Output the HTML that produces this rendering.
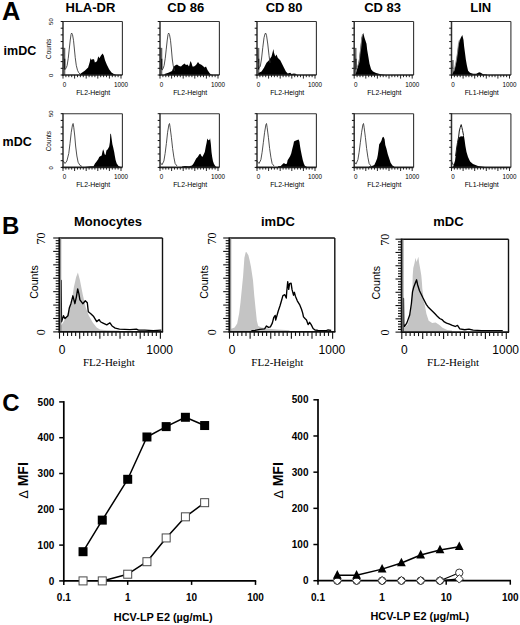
<!DOCTYPE html>
<html><head><meta charset="utf-8"><style>
html,body{margin:0;padding:0;background:#fff;width:520px;height:625px;overflow:hidden;}
svg{display:block;}
</style></head><body>
<svg width="520" height="625" viewBox="0 0 520 625">
<rect width="520" height="625" fill="#fff"/>
<text x="2" y="20.2" font-size="25.4" font-weight="bold" text-anchor="start" font-family='"Liberation Sans", sans-serif' fill="#000">A</text>
<text x="65.5" y="11.6" font-size="13" font-weight="bold" text-anchor="start" font-family='"Liberation Sans", sans-serif' fill="#000">HLA-DR</text>
<text x="167.3" y="11.6" font-size="13" font-weight="bold" text-anchor="start" font-family='"Liberation Sans", sans-serif' fill="#000">CD 86</text>
<text x="265.7" y="11.6" font-size="13" font-weight="bold" text-anchor="start" font-family='"Liberation Sans", sans-serif' fill="#000">CD 80</text>
<text x="364.2" y="11.6" font-size="13" font-weight="bold" text-anchor="start" font-family='"Liberation Sans", sans-serif' fill="#000">CD 83</text>
<text x="470.3" y="11.6" font-size="13" font-weight="bold" text-anchor="start" font-family='"Liberation Sans", sans-serif' fill="#000">LIN</text>
<text x="3.6" y="54.5" font-size="12.5" font-weight="bold" text-anchor="start" font-family='"Liberation Sans", sans-serif' fill="#000">imDC</text>
<text x="2.6" y="146" font-size="12.5" font-weight="bold" text-anchor="start" font-family='"Liberation Sans", sans-serif' fill="#000">mDC</text>
<rect x="63.4" y="47.9" width="1.9" height="27.1" fill="#6a6a6a"/>
<line x1="64.7" y1="58.8" x2="64.7" y2="69.5" stroke="#000" stroke-width="1.2"/>
<polygon points="80,75 80,74.12 84.75,70.75 88.12,67.62 89.75,62 90.5,58.25 91.75,59.88 92.88,59.12 94.12,59.5 94.88,62.38 97,61.25 98.25,56.25 99.38,58.25 101,55.5 102.62,53.5 103.75,55.5 105,60.25 106.75,64.38 109.12,69.25 111.5,72.5 113.88,74.12 115.5,74.5 115.5,75" fill="#000" stroke="none" stroke-width="0" stroke-linejoin="round"/>
<polyline points="63.75,47.75 63.88,69 65.25,69.25 66.25,67.75 67.12,65.5 68.25,58.25 69.25,49.12 70.25,40 71,34.62 71.62,33 72.5,34.62 73.5,40.25 74.38,49 75.25,57.75 76.25,65.25 77.5,70.25 78.75,72.75 80,74" fill="none" stroke="#3c3c3c" stroke-width="0.9" stroke-linejoin="round"/>
<line x1="63" y1="21.5" x2="122.4" y2="21.5" stroke="#333" stroke-width="1.1"/>
<line x1="122.4" y1="21.5" x2="122.4" y2="75" stroke="#333" stroke-width="1.1"/>
<line x1="63" y1="21" x2="63" y2="75.8" stroke="#303030" stroke-width="1.5"/>
<line x1="62.5" y1="75" x2="122.4" y2="75" stroke="#222" stroke-width="1.6"/>
<line x1="60.7" y1="21.5" x2="63" y2="21.5" stroke="#111" stroke-width="1"/>
<line x1="60.7" y1="28.19" x2="63" y2="28.19" stroke="#111" stroke-width="1"/>
<line x1="60.7" y1="34.88" x2="63" y2="34.88" stroke="#111" stroke-width="1"/>
<line x1="60.7" y1="41.56" x2="63" y2="41.56" stroke="#111" stroke-width="1"/>
<line x1="60.7" y1="48.25" x2="63" y2="48.25" stroke="#111" stroke-width="1"/>
<line x1="60.7" y1="54.94" x2="63" y2="54.94" stroke="#111" stroke-width="1"/>
<line x1="60.7" y1="61.62" x2="63" y2="61.62" stroke="#111" stroke-width="1"/>
<line x1="60.7" y1="68.31" x2="63" y2="68.31" stroke="#111" stroke-width="1"/>
<line x1="60.7" y1="75" x2="63" y2="75" stroke="#111" stroke-width="1"/>
<line x1="63" y1="75" x2="63" y2="78.6" stroke="#111" stroke-width="0.9"/>
<line x1="65.9" y1="75" x2="65.9" y2="77.2" stroke="#111" stroke-width="0.9"/>
<line x1="68.8" y1="75" x2="68.8" y2="77.2" stroke="#111" stroke-width="0.9"/>
<line x1="71.7" y1="75" x2="71.7" y2="77.2" stroke="#111" stroke-width="0.9"/>
<line x1="74.6" y1="75" x2="74.6" y2="78.6" stroke="#111" stroke-width="0.9"/>
<line x1="77.5" y1="75" x2="77.5" y2="77.2" stroke="#111" stroke-width="0.9"/>
<line x1="80.4" y1="75" x2="80.4" y2="77.2" stroke="#111" stroke-width="0.9"/>
<line x1="83.3" y1="75" x2="83.3" y2="77.2" stroke="#111" stroke-width="0.9"/>
<line x1="86.2" y1="75" x2="86.2" y2="78.6" stroke="#111" stroke-width="0.9"/>
<line x1="89.1" y1="75" x2="89.1" y2="77.2" stroke="#111" stroke-width="0.9"/>
<line x1="92" y1="75" x2="92" y2="77.2" stroke="#111" stroke-width="0.9"/>
<line x1="94.9" y1="75" x2="94.9" y2="77.2" stroke="#111" stroke-width="0.9"/>
<line x1="97.8" y1="75" x2="97.8" y2="78.6" stroke="#111" stroke-width="0.9"/>
<line x1="100.7" y1="75" x2="100.7" y2="77.2" stroke="#111" stroke-width="0.9"/>
<line x1="103.6" y1="75" x2="103.6" y2="77.2" stroke="#111" stroke-width="0.9"/>
<line x1="106.5" y1="75" x2="106.5" y2="77.2" stroke="#111" stroke-width="0.9"/>
<line x1="109.4" y1="75" x2="109.4" y2="78.6" stroke="#111" stroke-width="0.9"/>
<line x1="112.3" y1="75" x2="112.3" y2="77.2" stroke="#111" stroke-width="0.9"/>
<line x1="115.2" y1="75" x2="115.2" y2="77.2" stroke="#111" stroke-width="0.9"/>
<line x1="118.1" y1="75" x2="118.1" y2="77.2" stroke="#111" stroke-width="0.9"/>
<line x1="121" y1="75" x2="121" y2="78.6" stroke="#111" stroke-width="0.9"/>
<text x="62.7" y="87" font-size="6.3" text-anchor="start" font-family='"Liberation Sans", sans-serif' fill="#000">0</text>
<text x="128" y="87" font-size="6.3" text-anchor="end" font-family='"Liberation Sans", sans-serif' fill="#000">1000</text>
<text x="93.2" y="94.5" font-size="6.9" text-anchor="middle" font-family='"Liberation Sans", sans-serif' fill="#000">FL2-Height</text>
<rect x="160.4" y="47.9" width="1.9" height="27.1" fill="#6a6a6a"/>
<line x1="161.7" y1="58.8" x2="161.7" y2="69.5" stroke="#000" stroke-width="1.2"/>
<polygon points="164.5,75 164.5,74 168.25,72.75 170,72 172,71 173.5,67 175,65.5 177,64.5 179,66 181,66.5 182.5,65 184.5,63.5 186,65 187.5,64.5 189,66.5 190.5,61 191.5,63 192.5,66.5 194,66.5 196,65 198,62 199.5,64 201,64.5 203,66 204.5,67.5 206,66.5 207.5,70 209.5,73 211,74.5 213,75 213,75" fill="#000" stroke="none" stroke-width="0" stroke-linejoin="round"/>
<polyline points="160.75,47.75 160.88,69 162.25,70 163.25,68 164.12,65.5 165.25,58.25 166.25,49.12 167.25,40 168,34.62 168.62,33 169.5,34.62 170.5,40.25 171.38,49 172.25,59 173.25,65.88 174.5,70.88" fill="none" stroke="#3c3c3c" stroke-width="0.9" stroke-linejoin="round"/>
<line x1="160" y1="21.5" x2="219.4" y2="21.5" stroke="#333" stroke-width="1.1"/>
<line x1="219.4" y1="21.5" x2="219.4" y2="75" stroke="#333" stroke-width="1.1"/>
<line x1="160" y1="21" x2="160" y2="75.8" stroke="#303030" stroke-width="1.5"/>
<line x1="159.5" y1="75" x2="219.4" y2="75" stroke="#222" stroke-width="1.6"/>
<line x1="157.7" y1="21.5" x2="160" y2="21.5" stroke="#111" stroke-width="1"/>
<line x1="157.7" y1="28.19" x2="160" y2="28.19" stroke="#111" stroke-width="1"/>
<line x1="157.7" y1="34.88" x2="160" y2="34.88" stroke="#111" stroke-width="1"/>
<line x1="157.7" y1="41.56" x2="160" y2="41.56" stroke="#111" stroke-width="1"/>
<line x1="157.7" y1="48.25" x2="160" y2="48.25" stroke="#111" stroke-width="1"/>
<line x1="157.7" y1="54.94" x2="160" y2="54.94" stroke="#111" stroke-width="1"/>
<line x1="157.7" y1="61.62" x2="160" y2="61.62" stroke="#111" stroke-width="1"/>
<line x1="157.7" y1="68.31" x2="160" y2="68.31" stroke="#111" stroke-width="1"/>
<line x1="157.7" y1="75" x2="160" y2="75" stroke="#111" stroke-width="1"/>
<line x1="160" y1="75" x2="160" y2="78.6" stroke="#111" stroke-width="0.9"/>
<line x1="162.9" y1="75" x2="162.9" y2="77.2" stroke="#111" stroke-width="0.9"/>
<line x1="165.8" y1="75" x2="165.8" y2="77.2" stroke="#111" stroke-width="0.9"/>
<line x1="168.7" y1="75" x2="168.7" y2="77.2" stroke="#111" stroke-width="0.9"/>
<line x1="171.6" y1="75" x2="171.6" y2="78.6" stroke="#111" stroke-width="0.9"/>
<line x1="174.5" y1="75" x2="174.5" y2="77.2" stroke="#111" stroke-width="0.9"/>
<line x1="177.4" y1="75" x2="177.4" y2="77.2" stroke="#111" stroke-width="0.9"/>
<line x1="180.3" y1="75" x2="180.3" y2="77.2" stroke="#111" stroke-width="0.9"/>
<line x1="183.2" y1="75" x2="183.2" y2="78.6" stroke="#111" stroke-width="0.9"/>
<line x1="186.1" y1="75" x2="186.1" y2="77.2" stroke="#111" stroke-width="0.9"/>
<line x1="189" y1="75" x2="189" y2="77.2" stroke="#111" stroke-width="0.9"/>
<line x1="191.9" y1="75" x2="191.9" y2="77.2" stroke="#111" stroke-width="0.9"/>
<line x1="194.8" y1="75" x2="194.8" y2="78.6" stroke="#111" stroke-width="0.9"/>
<line x1="197.7" y1="75" x2="197.7" y2="77.2" stroke="#111" stroke-width="0.9"/>
<line x1="200.6" y1="75" x2="200.6" y2="77.2" stroke="#111" stroke-width="0.9"/>
<line x1="203.5" y1="75" x2="203.5" y2="77.2" stroke="#111" stroke-width="0.9"/>
<line x1="206.4" y1="75" x2="206.4" y2="78.6" stroke="#111" stroke-width="0.9"/>
<line x1="209.3" y1="75" x2="209.3" y2="77.2" stroke="#111" stroke-width="0.9"/>
<line x1="212.2" y1="75" x2="212.2" y2="77.2" stroke="#111" stroke-width="0.9"/>
<line x1="215.1" y1="75" x2="215.1" y2="77.2" stroke="#111" stroke-width="0.9"/>
<line x1="218" y1="75" x2="218" y2="78.6" stroke="#111" stroke-width="0.9"/>
<text x="159.7" y="87" font-size="6.3" text-anchor="start" font-family='"Liberation Sans", sans-serif' fill="#000">0</text>
<text x="225" y="87" font-size="6.3" text-anchor="end" font-family='"Liberation Sans", sans-serif' fill="#000">1000</text>
<text x="190.2" y="94.5" font-size="6.9" text-anchor="middle" font-family='"Liberation Sans", sans-serif' fill="#000">FL2-Height</text>
<rect x="257.4" y="47.9" width="1.9" height="27.1" fill="#6a6a6a"/>
<line x1="258.7" y1="58.8" x2="258.7" y2="69.5" stroke="#000" stroke-width="1.2"/>
<polygon points="258.38,75 258.38,73 261.5,71.5 264,67.75 266.5,62.75 269,60.25 271.5,56.5 272.75,51.75 273.38,49 274,52.75 275.25,56.5 276.5,54.62 277.75,57.75 280.25,60.25 282.12,64 284,67.75 285.88,71.5 287.75,73.38 290.25,72.75 291.5,74 294,73.62 296.5,74 296.5,75" fill="#000" stroke="none" stroke-width="0" stroke-linejoin="round"/>
<polyline points="257.25,47.75 258,61.5 259,67.75 260.25,66.5 261.5,59 262.75,47.75 264,37.75 265,34 265.62,33 266.5,35.25 267.75,44 269,55.25 270,62.75" fill="none" stroke="#3c3c3c" stroke-width="0.9" stroke-linejoin="round"/>
<line x1="257" y1="21.5" x2="316.4" y2="21.5" stroke="#333" stroke-width="1.1"/>
<line x1="316.4" y1="21.5" x2="316.4" y2="75" stroke="#333" stroke-width="1.1"/>
<line x1="257" y1="21" x2="257" y2="75.8" stroke="#303030" stroke-width="1.5"/>
<line x1="256.5" y1="75" x2="316.4" y2="75" stroke="#222" stroke-width="1.6"/>
<line x1="254.7" y1="21.5" x2="257" y2="21.5" stroke="#111" stroke-width="1"/>
<line x1="254.7" y1="28.19" x2="257" y2="28.19" stroke="#111" stroke-width="1"/>
<line x1="254.7" y1="34.88" x2="257" y2="34.88" stroke="#111" stroke-width="1"/>
<line x1="254.7" y1="41.56" x2="257" y2="41.56" stroke="#111" stroke-width="1"/>
<line x1="254.7" y1="48.25" x2="257" y2="48.25" stroke="#111" stroke-width="1"/>
<line x1="254.7" y1="54.94" x2="257" y2="54.94" stroke="#111" stroke-width="1"/>
<line x1="254.7" y1="61.62" x2="257" y2="61.62" stroke="#111" stroke-width="1"/>
<line x1="254.7" y1="68.31" x2="257" y2="68.31" stroke="#111" stroke-width="1"/>
<line x1="254.7" y1="75" x2="257" y2="75" stroke="#111" stroke-width="1"/>
<line x1="257" y1="75" x2="257" y2="78.6" stroke="#111" stroke-width="0.9"/>
<line x1="259.9" y1="75" x2="259.9" y2="77.2" stroke="#111" stroke-width="0.9"/>
<line x1="262.8" y1="75" x2="262.8" y2="77.2" stroke="#111" stroke-width="0.9"/>
<line x1="265.7" y1="75" x2="265.7" y2="77.2" stroke="#111" stroke-width="0.9"/>
<line x1="268.6" y1="75" x2="268.6" y2="78.6" stroke="#111" stroke-width="0.9"/>
<line x1="271.5" y1="75" x2="271.5" y2="77.2" stroke="#111" stroke-width="0.9"/>
<line x1="274.4" y1="75" x2="274.4" y2="77.2" stroke="#111" stroke-width="0.9"/>
<line x1="277.3" y1="75" x2="277.3" y2="77.2" stroke="#111" stroke-width="0.9"/>
<line x1="280.2" y1="75" x2="280.2" y2="78.6" stroke="#111" stroke-width="0.9"/>
<line x1="283.1" y1="75" x2="283.1" y2="77.2" stroke="#111" stroke-width="0.9"/>
<line x1="286" y1="75" x2="286" y2="77.2" stroke="#111" stroke-width="0.9"/>
<line x1="288.9" y1="75" x2="288.9" y2="77.2" stroke="#111" stroke-width="0.9"/>
<line x1="291.8" y1="75" x2="291.8" y2="78.6" stroke="#111" stroke-width="0.9"/>
<line x1="294.7" y1="75" x2="294.7" y2="77.2" stroke="#111" stroke-width="0.9"/>
<line x1="297.6" y1="75" x2="297.6" y2="77.2" stroke="#111" stroke-width="0.9"/>
<line x1="300.5" y1="75" x2="300.5" y2="77.2" stroke="#111" stroke-width="0.9"/>
<line x1="303.4" y1="75" x2="303.4" y2="78.6" stroke="#111" stroke-width="0.9"/>
<line x1="306.3" y1="75" x2="306.3" y2="77.2" stroke="#111" stroke-width="0.9"/>
<line x1="309.2" y1="75" x2="309.2" y2="77.2" stroke="#111" stroke-width="0.9"/>
<line x1="312.1" y1="75" x2="312.1" y2="77.2" stroke="#111" stroke-width="0.9"/>
<line x1="315" y1="75" x2="315" y2="78.6" stroke="#111" stroke-width="0.9"/>
<text x="256.7" y="87" font-size="6.3" text-anchor="start" font-family='"Liberation Sans", sans-serif' fill="#000">0</text>
<text x="322" y="87" font-size="6.3" text-anchor="end" font-family='"Liberation Sans", sans-serif' fill="#000">1000</text>
<text x="287.2" y="94.5" font-size="6.9" text-anchor="middle" font-family='"Liberation Sans", sans-serif' fill="#000">FL2-Height</text>
<rect x="354.6" y="47.9" width="1.9" height="27.1" fill="#6a6a6a"/>
<line x1="355.9" y1="58.8" x2="355.9" y2="69.5" stroke="#000" stroke-width="1.2"/>
<polygon points="355.7,75 355.7,73.8 356.5,71.5 357.6,66.9 358.8,60.8 359.9,53.1 360.7,45.4 361.5,37.7 362.6,34.2 363.4,33.5 364.5,37.7 366.5,43.8 367.2,50 368.4,56.9 369.5,63.8 371.1,69.2 373,71.5 376.1,73.1 380.7,74.2 385.3,75 385.3,75" fill="#000" stroke="none" stroke-width="0" stroke-linejoin="round"/>
<polyline points="356.9,68.3 359.2,61.7 359.9,54.3 361,46.2 361.7,38.8 362.5,34.4 363.6,33.3" fill="none" stroke="#8a8a8a" stroke-width="0.9" stroke-linejoin="round"/>
<polyline points="354.25,47.75 355,61.5 356,69" fill="none" stroke="#3c3c3c" stroke-width="0.9" stroke-linejoin="round"/>
<line x1="354.2" y1="21.5" x2="413.6" y2="21.5" stroke="#333" stroke-width="1.1"/>
<line x1="413.6" y1="21.5" x2="413.6" y2="75" stroke="#333" stroke-width="1.1"/>
<line x1="354.2" y1="21" x2="354.2" y2="75.8" stroke="#303030" stroke-width="1.5"/>
<line x1="353.7" y1="75" x2="413.6" y2="75" stroke="#222" stroke-width="1.6"/>
<line x1="351.9" y1="21.5" x2="354.2" y2="21.5" stroke="#111" stroke-width="1"/>
<line x1="351.9" y1="28.19" x2="354.2" y2="28.19" stroke="#111" stroke-width="1"/>
<line x1="351.9" y1="34.88" x2="354.2" y2="34.88" stroke="#111" stroke-width="1"/>
<line x1="351.9" y1="41.56" x2="354.2" y2="41.56" stroke="#111" stroke-width="1"/>
<line x1="351.9" y1="48.25" x2="354.2" y2="48.25" stroke="#111" stroke-width="1"/>
<line x1="351.9" y1="54.94" x2="354.2" y2="54.94" stroke="#111" stroke-width="1"/>
<line x1="351.9" y1="61.62" x2="354.2" y2="61.62" stroke="#111" stroke-width="1"/>
<line x1="351.9" y1="68.31" x2="354.2" y2="68.31" stroke="#111" stroke-width="1"/>
<line x1="351.9" y1="75" x2="354.2" y2="75" stroke="#111" stroke-width="1"/>
<line x1="354.2" y1="75" x2="354.2" y2="78.6" stroke="#111" stroke-width="0.9"/>
<line x1="357.1" y1="75" x2="357.1" y2="77.2" stroke="#111" stroke-width="0.9"/>
<line x1="360" y1="75" x2="360" y2="77.2" stroke="#111" stroke-width="0.9"/>
<line x1="362.9" y1="75" x2="362.9" y2="77.2" stroke="#111" stroke-width="0.9"/>
<line x1="365.8" y1="75" x2="365.8" y2="78.6" stroke="#111" stroke-width="0.9"/>
<line x1="368.7" y1="75" x2="368.7" y2="77.2" stroke="#111" stroke-width="0.9"/>
<line x1="371.6" y1="75" x2="371.6" y2="77.2" stroke="#111" stroke-width="0.9"/>
<line x1="374.5" y1="75" x2="374.5" y2="77.2" stroke="#111" stroke-width="0.9"/>
<line x1="377.4" y1="75" x2="377.4" y2="78.6" stroke="#111" stroke-width="0.9"/>
<line x1="380.3" y1="75" x2="380.3" y2="77.2" stroke="#111" stroke-width="0.9"/>
<line x1="383.2" y1="75" x2="383.2" y2="77.2" stroke="#111" stroke-width="0.9"/>
<line x1="386.1" y1="75" x2="386.1" y2="77.2" stroke="#111" stroke-width="0.9"/>
<line x1="389" y1="75" x2="389" y2="78.6" stroke="#111" stroke-width="0.9"/>
<line x1="391.9" y1="75" x2="391.9" y2="77.2" stroke="#111" stroke-width="0.9"/>
<line x1="394.8" y1="75" x2="394.8" y2="77.2" stroke="#111" stroke-width="0.9"/>
<line x1="397.7" y1="75" x2="397.7" y2="77.2" stroke="#111" stroke-width="0.9"/>
<line x1="400.6" y1="75" x2="400.6" y2="78.6" stroke="#111" stroke-width="0.9"/>
<line x1="403.5" y1="75" x2="403.5" y2="77.2" stroke="#111" stroke-width="0.9"/>
<line x1="406.4" y1="75" x2="406.4" y2="77.2" stroke="#111" stroke-width="0.9"/>
<line x1="409.3" y1="75" x2="409.3" y2="77.2" stroke="#111" stroke-width="0.9"/>
<line x1="412.2" y1="75" x2="412.2" y2="78.6" stroke="#111" stroke-width="0.9"/>
<text x="353.9" y="87" font-size="6.3" text-anchor="start" font-family='"Liberation Sans", sans-serif' fill="#000">0</text>
<text x="419.2" y="87" font-size="6.3" text-anchor="end" font-family='"Liberation Sans", sans-serif' fill="#000">1000</text>
<text x="384.4" y="94.5" font-size="6.9" text-anchor="middle" font-family='"Liberation Sans", sans-serif' fill="#000">FL2-Height</text>
<rect x="451.9" y="60" width="1.9" height="15" fill="#8a8a8a"/>
<polygon points="452.5,75 452.5,74 453.5,71.5 454.6,68.5 455.8,64.6 456.5,59.2 457.3,53.1 458.1,46.9 459.2,41.5 460.8,37.7 462.3,35 463.5,40 464.2,46.9 465,53.1 465.8,59.2 466.9,65.4 468.1,70.8 470,72.7 473.1,73.8 476.2,73.8 479.2,72.3 480.8,72.7 483.1,74.2 486.9,74.6 486.9,75" fill="#000" stroke="none" stroke-width="0" stroke-linejoin="round"/>
<polyline points="454,71.2 456.5,59.5 457.6,52.1 458.4,44.7 459.1,41 459.8,39.6" fill="none" stroke="#8a8a8a" stroke-width="0.9" stroke-linejoin="round"/>
<polyline points="451.5,60.25 452,66.5 453,69" fill="none" stroke="#3c3c3c" stroke-width="0.9" stroke-linejoin="round"/>
<line x1="451.5" y1="21.5" x2="510.9" y2="21.5" stroke="#333" stroke-width="1.1"/>
<line x1="510.9" y1="21.5" x2="510.9" y2="75" stroke="#333" stroke-width="1.1"/>
<line x1="451.5" y1="21" x2="451.5" y2="75.8" stroke="#303030" stroke-width="1.5"/>
<line x1="451" y1="75" x2="510.9" y2="75" stroke="#222" stroke-width="1.6"/>
<line x1="449.2" y1="21.5" x2="451.5" y2="21.5" stroke="#111" stroke-width="1"/>
<line x1="449.2" y1="28.19" x2="451.5" y2="28.19" stroke="#111" stroke-width="1"/>
<line x1="449.2" y1="34.88" x2="451.5" y2="34.88" stroke="#111" stroke-width="1"/>
<line x1="449.2" y1="41.56" x2="451.5" y2="41.56" stroke="#111" stroke-width="1"/>
<line x1="449.2" y1="48.25" x2="451.5" y2="48.25" stroke="#111" stroke-width="1"/>
<line x1="449.2" y1="54.94" x2="451.5" y2="54.94" stroke="#111" stroke-width="1"/>
<line x1="449.2" y1="61.62" x2="451.5" y2="61.62" stroke="#111" stroke-width="1"/>
<line x1="449.2" y1="68.31" x2="451.5" y2="68.31" stroke="#111" stroke-width="1"/>
<line x1="449.2" y1="75" x2="451.5" y2="75" stroke="#111" stroke-width="1"/>
<line x1="451.5" y1="75" x2="451.5" y2="78.6" stroke="#111" stroke-width="0.9"/>
<line x1="454.4" y1="75" x2="454.4" y2="77.2" stroke="#111" stroke-width="0.9"/>
<line x1="457.3" y1="75" x2="457.3" y2="77.2" stroke="#111" stroke-width="0.9"/>
<line x1="460.2" y1="75" x2="460.2" y2="77.2" stroke="#111" stroke-width="0.9"/>
<line x1="463.1" y1="75" x2="463.1" y2="78.6" stroke="#111" stroke-width="0.9"/>
<line x1="466" y1="75" x2="466" y2="77.2" stroke="#111" stroke-width="0.9"/>
<line x1="468.9" y1="75" x2="468.9" y2="77.2" stroke="#111" stroke-width="0.9"/>
<line x1="471.8" y1="75" x2="471.8" y2="77.2" stroke="#111" stroke-width="0.9"/>
<line x1="474.7" y1="75" x2="474.7" y2="78.6" stroke="#111" stroke-width="0.9"/>
<line x1="477.6" y1="75" x2="477.6" y2="77.2" stroke="#111" stroke-width="0.9"/>
<line x1="480.5" y1="75" x2="480.5" y2="77.2" stroke="#111" stroke-width="0.9"/>
<line x1="483.4" y1="75" x2="483.4" y2="77.2" stroke="#111" stroke-width="0.9"/>
<line x1="486.3" y1="75" x2="486.3" y2="78.6" stroke="#111" stroke-width="0.9"/>
<line x1="489.2" y1="75" x2="489.2" y2="77.2" stroke="#111" stroke-width="0.9"/>
<line x1="492.1" y1="75" x2="492.1" y2="77.2" stroke="#111" stroke-width="0.9"/>
<line x1="495" y1="75" x2="495" y2="77.2" stroke="#111" stroke-width="0.9"/>
<line x1="497.9" y1="75" x2="497.9" y2="78.6" stroke="#111" stroke-width="0.9"/>
<line x1="500.8" y1="75" x2="500.8" y2="77.2" stroke="#111" stroke-width="0.9"/>
<line x1="503.7" y1="75" x2="503.7" y2="77.2" stroke="#111" stroke-width="0.9"/>
<line x1="506.6" y1="75" x2="506.6" y2="77.2" stroke="#111" stroke-width="0.9"/>
<line x1="509.5" y1="75" x2="509.5" y2="78.6" stroke="#111" stroke-width="0.9"/>
<text x="451.2" y="87" font-size="6.3" text-anchor="start" font-family='"Liberation Sans", sans-serif' fill="#000">0</text>
<text x="516.5" y="87" font-size="6.3" text-anchor="end" font-family='"Liberation Sans", sans-serif' fill="#000">1000</text>
<text x="481.7" y="94.5" font-size="6.9" text-anchor="middle" font-family='"Liberation Sans", sans-serif' fill="#000">FL1-Height</text>
<text x="52.6" y="21.6" font-size="5.9" text-anchor="middle" font-family='"Liberation Sans", sans-serif' fill="#000" transform="rotate(-90 52.6 21.6)">50</text>
<text x="53.1" y="75.4" font-size="5.9" text-anchor="middle" font-family='"Liberation Sans", sans-serif' fill="#000" transform="rotate(-90 53.1 75.4)">0</text>
<text x="51.4" y="48.85" font-size="6.4" text-anchor="middle" font-family='"Liberation Sans", sans-serif' fill="#000" transform="rotate(-90 51.4 48.85)">Counts</text>
<polygon points="85,167.4 85,167 90.7,166.3 93.5,166.3 95,163.4 96.4,161.7 98.2,159.2 99.2,157 100.3,156.3 101.7,155.6 102.4,152 103.1,149.2 103.9,151.3 104.6,154.2 105.6,154.9 106.4,150.6 107.8,149.2 109.2,146.4 109.9,142.1 110.3,133.5 111,134.3 111.7,139.2 112.4,144.2 113.1,147.1 114.2,152 114.9,156.3 115.6,159.9 116.7,163.4 118.5,165.9 120.6,167 120.6,167.4" fill="#000" stroke="none" stroke-width="0" stroke-linejoin="round"/>
<polyline points="63.25,161 65,163.5 66.88,161 68.75,153.5 70,143.5 71.25,132.25 72.5,124.75 73.12,123.5 73.75,127.25 74.75,136 75.62,146 76.88,156 78.12,162.25 80,165.38 81.88,166.38" fill="none" stroke="#3c3c3c" stroke-width="0.9" stroke-linejoin="round"/>
<line x1="63" y1="113.7" x2="122.4" y2="113.7" stroke="#333" stroke-width="1.1"/>
<line x1="122.4" y1="113.7" x2="122.4" y2="167.4" stroke="#333" stroke-width="1.1"/>
<line x1="63" y1="113.2" x2="63" y2="168.2" stroke="#303030" stroke-width="1.5"/>
<line x1="62.5" y1="167.4" x2="122.4" y2="167.4" stroke="#222" stroke-width="1.6"/>
<line x1="60.7" y1="113.7" x2="63" y2="113.7" stroke="#111" stroke-width="1"/>
<line x1="60.7" y1="120.41" x2="63" y2="120.41" stroke="#111" stroke-width="1"/>
<line x1="60.7" y1="127.12" x2="63" y2="127.12" stroke="#111" stroke-width="1"/>
<line x1="60.7" y1="133.84" x2="63" y2="133.84" stroke="#111" stroke-width="1"/>
<line x1="60.7" y1="140.55" x2="63" y2="140.55" stroke="#111" stroke-width="1"/>
<line x1="60.7" y1="147.26" x2="63" y2="147.26" stroke="#111" stroke-width="1"/>
<line x1="60.7" y1="153.98" x2="63" y2="153.98" stroke="#111" stroke-width="1"/>
<line x1="60.7" y1="160.69" x2="63" y2="160.69" stroke="#111" stroke-width="1"/>
<line x1="60.7" y1="167.4" x2="63" y2="167.4" stroke="#111" stroke-width="1"/>
<line x1="63" y1="167.4" x2="63" y2="171" stroke="#111" stroke-width="0.9"/>
<line x1="65.9" y1="167.4" x2="65.9" y2="169.6" stroke="#111" stroke-width="0.9"/>
<line x1="68.8" y1="167.4" x2="68.8" y2="169.6" stroke="#111" stroke-width="0.9"/>
<line x1="71.7" y1="167.4" x2="71.7" y2="169.6" stroke="#111" stroke-width="0.9"/>
<line x1="74.6" y1="167.4" x2="74.6" y2="171" stroke="#111" stroke-width="0.9"/>
<line x1="77.5" y1="167.4" x2="77.5" y2="169.6" stroke="#111" stroke-width="0.9"/>
<line x1="80.4" y1="167.4" x2="80.4" y2="169.6" stroke="#111" stroke-width="0.9"/>
<line x1="83.3" y1="167.4" x2="83.3" y2="169.6" stroke="#111" stroke-width="0.9"/>
<line x1="86.2" y1="167.4" x2="86.2" y2="171" stroke="#111" stroke-width="0.9"/>
<line x1="89.1" y1="167.4" x2="89.1" y2="169.6" stroke="#111" stroke-width="0.9"/>
<line x1="92" y1="167.4" x2="92" y2="169.6" stroke="#111" stroke-width="0.9"/>
<line x1="94.9" y1="167.4" x2="94.9" y2="169.6" stroke="#111" stroke-width="0.9"/>
<line x1="97.8" y1="167.4" x2="97.8" y2="171" stroke="#111" stroke-width="0.9"/>
<line x1="100.7" y1="167.4" x2="100.7" y2="169.6" stroke="#111" stroke-width="0.9"/>
<line x1="103.6" y1="167.4" x2="103.6" y2="169.6" stroke="#111" stroke-width="0.9"/>
<line x1="106.5" y1="167.4" x2="106.5" y2="169.6" stroke="#111" stroke-width="0.9"/>
<line x1="109.4" y1="167.4" x2="109.4" y2="171" stroke="#111" stroke-width="0.9"/>
<line x1="112.3" y1="167.4" x2="112.3" y2="169.6" stroke="#111" stroke-width="0.9"/>
<line x1="115.2" y1="167.4" x2="115.2" y2="169.6" stroke="#111" stroke-width="0.9"/>
<line x1="118.1" y1="167.4" x2="118.1" y2="169.6" stroke="#111" stroke-width="0.9"/>
<line x1="121" y1="167.4" x2="121" y2="171" stroke="#111" stroke-width="0.9"/>
<text x="62.7" y="179.4" font-size="6.3" text-anchor="start" font-family='"Liberation Sans", sans-serif' fill="#000">0</text>
<text x="128" y="179.4" font-size="6.3" text-anchor="end" font-family='"Liberation Sans", sans-serif' fill="#000">1000</text>
<text x="93.2" y="186.9" font-size="6.9" text-anchor="middle" font-family='"Liberation Sans", sans-serif' fill="#000">FL2-Height</text>
<polygon points="182,167.4 182,166.6 184.8,165.9 189.1,166.3 192,165.6 193.4,163.8 194.8,161.3 196.2,158.5 197.7,157 199.4,154.2 200.4,153.8 201.2,155.6 202.3,157 203.4,154.9 204.8,152 205.8,146.4 206.6,142.8 207.3,138.5 208.3,140.3 209.4,139.9 210.1,138.2 210.8,143.5 211.5,152 212.2,157 213,161.3 214,164.1 215.5,166.3 216.9,167.3 216.9,167.4" fill="#000" stroke="none" stroke-width="0" stroke-linejoin="round"/>
<polyline points="160,162.25 162,164.75 163.88,161 165.12,153.5 166.38,143.5 167.62,132.25 168.88,124.75 169.5,123.5 170.12,127.25 171.38,137.25 172.62,148.5 173.88,157.25 175.12,163.5 177,166" fill="none" stroke="#3c3c3c" stroke-width="0.9" stroke-linejoin="round"/>
<line x1="160" y1="113.7" x2="219.4" y2="113.7" stroke="#333" stroke-width="1.1"/>
<line x1="219.4" y1="113.7" x2="219.4" y2="167.4" stroke="#333" stroke-width="1.1"/>
<line x1="160" y1="113.2" x2="160" y2="168.2" stroke="#303030" stroke-width="1.5"/>
<line x1="159.5" y1="167.4" x2="219.4" y2="167.4" stroke="#222" stroke-width="1.6"/>
<line x1="157.7" y1="113.7" x2="160" y2="113.7" stroke="#111" stroke-width="1"/>
<line x1="157.7" y1="120.41" x2="160" y2="120.41" stroke="#111" stroke-width="1"/>
<line x1="157.7" y1="127.12" x2="160" y2="127.12" stroke="#111" stroke-width="1"/>
<line x1="157.7" y1="133.84" x2="160" y2="133.84" stroke="#111" stroke-width="1"/>
<line x1="157.7" y1="140.55" x2="160" y2="140.55" stroke="#111" stroke-width="1"/>
<line x1="157.7" y1="147.26" x2="160" y2="147.26" stroke="#111" stroke-width="1"/>
<line x1="157.7" y1="153.98" x2="160" y2="153.98" stroke="#111" stroke-width="1"/>
<line x1="157.7" y1="160.69" x2="160" y2="160.69" stroke="#111" stroke-width="1"/>
<line x1="157.7" y1="167.4" x2="160" y2="167.4" stroke="#111" stroke-width="1"/>
<line x1="160" y1="167.4" x2="160" y2="171" stroke="#111" stroke-width="0.9"/>
<line x1="162.9" y1="167.4" x2="162.9" y2="169.6" stroke="#111" stroke-width="0.9"/>
<line x1="165.8" y1="167.4" x2="165.8" y2="169.6" stroke="#111" stroke-width="0.9"/>
<line x1="168.7" y1="167.4" x2="168.7" y2="169.6" stroke="#111" stroke-width="0.9"/>
<line x1="171.6" y1="167.4" x2="171.6" y2="171" stroke="#111" stroke-width="0.9"/>
<line x1="174.5" y1="167.4" x2="174.5" y2="169.6" stroke="#111" stroke-width="0.9"/>
<line x1="177.4" y1="167.4" x2="177.4" y2="169.6" stroke="#111" stroke-width="0.9"/>
<line x1="180.3" y1="167.4" x2="180.3" y2="169.6" stroke="#111" stroke-width="0.9"/>
<line x1="183.2" y1="167.4" x2="183.2" y2="171" stroke="#111" stroke-width="0.9"/>
<line x1="186.1" y1="167.4" x2="186.1" y2="169.6" stroke="#111" stroke-width="0.9"/>
<line x1="189" y1="167.4" x2="189" y2="169.6" stroke="#111" stroke-width="0.9"/>
<line x1="191.9" y1="167.4" x2="191.9" y2="169.6" stroke="#111" stroke-width="0.9"/>
<line x1="194.8" y1="167.4" x2="194.8" y2="171" stroke="#111" stroke-width="0.9"/>
<line x1="197.7" y1="167.4" x2="197.7" y2="169.6" stroke="#111" stroke-width="0.9"/>
<line x1="200.6" y1="167.4" x2="200.6" y2="169.6" stroke="#111" stroke-width="0.9"/>
<line x1="203.5" y1="167.4" x2="203.5" y2="169.6" stroke="#111" stroke-width="0.9"/>
<line x1="206.4" y1="167.4" x2="206.4" y2="171" stroke="#111" stroke-width="0.9"/>
<line x1="209.3" y1="167.4" x2="209.3" y2="169.6" stroke="#111" stroke-width="0.9"/>
<line x1="212.2" y1="167.4" x2="212.2" y2="169.6" stroke="#111" stroke-width="0.9"/>
<line x1="215.1" y1="167.4" x2="215.1" y2="169.6" stroke="#111" stroke-width="0.9"/>
<line x1="218" y1="167.4" x2="218" y2="171" stroke="#111" stroke-width="0.9"/>
<text x="159.7" y="179.4" font-size="6.3" text-anchor="start" font-family='"Liberation Sans", sans-serif' fill="#000">0</text>
<text x="225" y="179.4" font-size="6.3" text-anchor="end" font-family='"Liberation Sans", sans-serif' fill="#000">1000</text>
<text x="190.2" y="186.9" font-size="6.9" text-anchor="middle" font-family='"Liberation Sans", sans-serif' fill="#000">FL2-Height</text>
<polygon points="278,167.4 278,166.3 280.8,165.9 283,163.8 284,163.1 285.1,164.1 286.9,163.8 287.6,160.2 288.7,158.5 290.1,156.3 291.2,153.5 292.2,149.2 293.3,144.9 294,141.4 295.4,140.7 297.2,139.9 298.6,139.6 299.4,141.4 300.1,146.4 300.8,150.6 301.8,155.6 302.9,160.6 304,164.1 305,165.9 306.5,166.6 306.5,167.4" fill="#000" stroke="none" stroke-width="0" stroke-linejoin="round"/>
<polyline points="257,161 259,163.5 260.88,159.75 262.12,152.25 263.38,142.25 264.62,132.25 265.88,124.75 266.5,123.5 267.12,127.25 268.38,137.25 269.62,148.5 270.88,157.25 272.12,163.5 274,166" fill="none" stroke="#3c3c3c" stroke-width="0.9" stroke-linejoin="round"/>
<line x1="257" y1="113.7" x2="316.4" y2="113.7" stroke="#333" stroke-width="1.1"/>
<line x1="316.4" y1="113.7" x2="316.4" y2="167.4" stroke="#333" stroke-width="1.1"/>
<line x1="257" y1="113.2" x2="257" y2="168.2" stroke="#303030" stroke-width="1.5"/>
<line x1="256.5" y1="167.4" x2="316.4" y2="167.4" stroke="#222" stroke-width="1.6"/>
<line x1="254.7" y1="113.7" x2="257" y2="113.7" stroke="#111" stroke-width="1"/>
<line x1="254.7" y1="120.41" x2="257" y2="120.41" stroke="#111" stroke-width="1"/>
<line x1="254.7" y1="127.12" x2="257" y2="127.12" stroke="#111" stroke-width="1"/>
<line x1="254.7" y1="133.84" x2="257" y2="133.84" stroke="#111" stroke-width="1"/>
<line x1="254.7" y1="140.55" x2="257" y2="140.55" stroke="#111" stroke-width="1"/>
<line x1="254.7" y1="147.26" x2="257" y2="147.26" stroke="#111" stroke-width="1"/>
<line x1="254.7" y1="153.98" x2="257" y2="153.98" stroke="#111" stroke-width="1"/>
<line x1="254.7" y1="160.69" x2="257" y2="160.69" stroke="#111" stroke-width="1"/>
<line x1="254.7" y1="167.4" x2="257" y2="167.4" stroke="#111" stroke-width="1"/>
<line x1="257" y1="167.4" x2="257" y2="171" stroke="#111" stroke-width="0.9"/>
<line x1="259.9" y1="167.4" x2="259.9" y2="169.6" stroke="#111" stroke-width="0.9"/>
<line x1="262.8" y1="167.4" x2="262.8" y2="169.6" stroke="#111" stroke-width="0.9"/>
<line x1="265.7" y1="167.4" x2="265.7" y2="169.6" stroke="#111" stroke-width="0.9"/>
<line x1="268.6" y1="167.4" x2="268.6" y2="171" stroke="#111" stroke-width="0.9"/>
<line x1="271.5" y1="167.4" x2="271.5" y2="169.6" stroke="#111" stroke-width="0.9"/>
<line x1="274.4" y1="167.4" x2="274.4" y2="169.6" stroke="#111" stroke-width="0.9"/>
<line x1="277.3" y1="167.4" x2="277.3" y2="169.6" stroke="#111" stroke-width="0.9"/>
<line x1="280.2" y1="167.4" x2="280.2" y2="171" stroke="#111" stroke-width="0.9"/>
<line x1="283.1" y1="167.4" x2="283.1" y2="169.6" stroke="#111" stroke-width="0.9"/>
<line x1="286" y1="167.4" x2="286" y2="169.6" stroke="#111" stroke-width="0.9"/>
<line x1="288.9" y1="167.4" x2="288.9" y2="169.6" stroke="#111" stroke-width="0.9"/>
<line x1="291.8" y1="167.4" x2="291.8" y2="171" stroke="#111" stroke-width="0.9"/>
<line x1="294.7" y1="167.4" x2="294.7" y2="169.6" stroke="#111" stroke-width="0.9"/>
<line x1="297.6" y1="167.4" x2="297.6" y2="169.6" stroke="#111" stroke-width="0.9"/>
<line x1="300.5" y1="167.4" x2="300.5" y2="169.6" stroke="#111" stroke-width="0.9"/>
<line x1="303.4" y1="167.4" x2="303.4" y2="171" stroke="#111" stroke-width="0.9"/>
<line x1="306.3" y1="167.4" x2="306.3" y2="169.6" stroke="#111" stroke-width="0.9"/>
<line x1="309.2" y1="167.4" x2="309.2" y2="169.6" stroke="#111" stroke-width="0.9"/>
<line x1="312.1" y1="167.4" x2="312.1" y2="169.6" stroke="#111" stroke-width="0.9"/>
<line x1="315" y1="167.4" x2="315" y2="171" stroke="#111" stroke-width="0.9"/>
<text x="256.7" y="179.4" font-size="6.3" text-anchor="start" font-family='"Liberation Sans", sans-serif' fill="#000">0</text>
<text x="322" y="179.4" font-size="6.3" text-anchor="end" font-family='"Liberation Sans", sans-serif' fill="#000">1000</text>
<text x="287.2" y="186.9" font-size="6.9" text-anchor="middle" font-family='"Liberation Sans", sans-serif' fill="#000">FL2-Height</text>
<polygon points="369,167.4 369,166.6 371.4,166.3 374.3,164.9 375.7,162 377.1,158.5 377.8,154.9 378.5,149.9 379.2,144.2 380.3,142.8 381.4,140.7 382.4,137.5 383.5,136.7 384.6,139.2 385.3,144.9 386.4,148.5 387.8,154.2 389.2,158.5 390.6,162.7 392.4,165.6 394.2,166.6 394.2,167.4" fill="#000" stroke="none" stroke-width="0" stroke-linejoin="round"/>
<polyline points="354.2,161.62 356,164.12 357.88,159.75 359.12,152.25 360.38,142.25 361.62,132.25 362.88,124.75 363.5,123.5 364.12,127.25 365.38,137.25 366.62,148.5 367.88,157.25 369.12,163.5 371,166" fill="none" stroke="#3c3c3c" stroke-width="0.9" stroke-linejoin="round"/>
<line x1="354.2" y1="113.7" x2="413.6" y2="113.7" stroke="#333" stroke-width="1.1"/>
<line x1="413.6" y1="113.7" x2="413.6" y2="167.4" stroke="#333" stroke-width="1.1"/>
<line x1="354.2" y1="113.2" x2="354.2" y2="168.2" stroke="#303030" stroke-width="1.5"/>
<line x1="353.7" y1="167.4" x2="413.6" y2="167.4" stroke="#222" stroke-width="1.6"/>
<line x1="351.9" y1="113.7" x2="354.2" y2="113.7" stroke="#111" stroke-width="1"/>
<line x1="351.9" y1="120.41" x2="354.2" y2="120.41" stroke="#111" stroke-width="1"/>
<line x1="351.9" y1="127.12" x2="354.2" y2="127.12" stroke="#111" stroke-width="1"/>
<line x1="351.9" y1="133.84" x2="354.2" y2="133.84" stroke="#111" stroke-width="1"/>
<line x1="351.9" y1="140.55" x2="354.2" y2="140.55" stroke="#111" stroke-width="1"/>
<line x1="351.9" y1="147.26" x2="354.2" y2="147.26" stroke="#111" stroke-width="1"/>
<line x1="351.9" y1="153.98" x2="354.2" y2="153.98" stroke="#111" stroke-width="1"/>
<line x1="351.9" y1="160.69" x2="354.2" y2="160.69" stroke="#111" stroke-width="1"/>
<line x1="351.9" y1="167.4" x2="354.2" y2="167.4" stroke="#111" stroke-width="1"/>
<line x1="354.2" y1="167.4" x2="354.2" y2="171" stroke="#111" stroke-width="0.9"/>
<line x1="357.1" y1="167.4" x2="357.1" y2="169.6" stroke="#111" stroke-width="0.9"/>
<line x1="360" y1="167.4" x2="360" y2="169.6" stroke="#111" stroke-width="0.9"/>
<line x1="362.9" y1="167.4" x2="362.9" y2="169.6" stroke="#111" stroke-width="0.9"/>
<line x1="365.8" y1="167.4" x2="365.8" y2="171" stroke="#111" stroke-width="0.9"/>
<line x1="368.7" y1="167.4" x2="368.7" y2="169.6" stroke="#111" stroke-width="0.9"/>
<line x1="371.6" y1="167.4" x2="371.6" y2="169.6" stroke="#111" stroke-width="0.9"/>
<line x1="374.5" y1="167.4" x2="374.5" y2="169.6" stroke="#111" stroke-width="0.9"/>
<line x1="377.4" y1="167.4" x2="377.4" y2="171" stroke="#111" stroke-width="0.9"/>
<line x1="380.3" y1="167.4" x2="380.3" y2="169.6" stroke="#111" stroke-width="0.9"/>
<line x1="383.2" y1="167.4" x2="383.2" y2="169.6" stroke="#111" stroke-width="0.9"/>
<line x1="386.1" y1="167.4" x2="386.1" y2="169.6" stroke="#111" stroke-width="0.9"/>
<line x1="389" y1="167.4" x2="389" y2="171" stroke="#111" stroke-width="0.9"/>
<line x1="391.9" y1="167.4" x2="391.9" y2="169.6" stroke="#111" stroke-width="0.9"/>
<line x1="394.8" y1="167.4" x2="394.8" y2="169.6" stroke="#111" stroke-width="0.9"/>
<line x1="397.7" y1="167.4" x2="397.7" y2="169.6" stroke="#111" stroke-width="0.9"/>
<line x1="400.6" y1="167.4" x2="400.6" y2="171" stroke="#111" stroke-width="0.9"/>
<line x1="403.5" y1="167.4" x2="403.5" y2="169.6" stroke="#111" stroke-width="0.9"/>
<line x1="406.4" y1="167.4" x2="406.4" y2="169.6" stroke="#111" stroke-width="0.9"/>
<line x1="409.3" y1="167.4" x2="409.3" y2="169.6" stroke="#111" stroke-width="0.9"/>
<line x1="412.2" y1="167.4" x2="412.2" y2="171" stroke="#111" stroke-width="0.9"/>
<text x="353.9" y="179.4" font-size="6.3" text-anchor="start" font-family='"Liberation Sans", sans-serif' fill="#000">0</text>
<text x="419.2" y="179.4" font-size="6.3" text-anchor="end" font-family='"Liberation Sans", sans-serif' fill="#000">1000</text>
<text x="384.4" y="186.9" font-size="6.9" text-anchor="middle" font-family='"Liberation Sans", sans-serif' fill="#000">FL2-Height</text>
<polygon points="453,167.4 453,167 455,160.7 455.8,154.8 456.5,148.9 457.3,143.8 458.4,138.6 459.5,137 461,136.2 462.5,136.5 463.9,135.7 464.6,140.1 465.4,146 466.5,151.9 468,157 470.1,161.4 473,164 478,166 485,167 485,167.4" fill="#000" stroke="none" stroke-width="0" stroke-linejoin="round"/>
<polyline points="455.6,156 456.5,149 457.5,142.5 458.6,137 459.3,131 460.2,127.6 461.2,124.6 461.9,127.4 462.6,130.6 463.6,135.7" fill="none" stroke="#1a1a1a" stroke-width="1" stroke-linejoin="round"/>
<polyline points="451.5,161 453,164.75 454.25,163.5" fill="none" stroke="#3c3c3c" stroke-width="0.9" stroke-linejoin="round"/>
<line x1="451.5" y1="113.7" x2="510.9" y2="113.7" stroke="#333" stroke-width="1.1"/>
<line x1="510.9" y1="113.7" x2="510.9" y2="167.4" stroke="#333" stroke-width="1.1"/>
<line x1="451.5" y1="113.2" x2="451.5" y2="168.2" stroke="#303030" stroke-width="1.5"/>
<line x1="451" y1="167.4" x2="510.9" y2="167.4" stroke="#222" stroke-width="1.6"/>
<line x1="449.2" y1="113.7" x2="451.5" y2="113.7" stroke="#111" stroke-width="1"/>
<line x1="449.2" y1="120.41" x2="451.5" y2="120.41" stroke="#111" stroke-width="1"/>
<line x1="449.2" y1="127.12" x2="451.5" y2="127.12" stroke="#111" stroke-width="1"/>
<line x1="449.2" y1="133.84" x2="451.5" y2="133.84" stroke="#111" stroke-width="1"/>
<line x1="449.2" y1="140.55" x2="451.5" y2="140.55" stroke="#111" stroke-width="1"/>
<line x1="449.2" y1="147.26" x2="451.5" y2="147.26" stroke="#111" stroke-width="1"/>
<line x1="449.2" y1="153.98" x2="451.5" y2="153.98" stroke="#111" stroke-width="1"/>
<line x1="449.2" y1="160.69" x2="451.5" y2="160.69" stroke="#111" stroke-width="1"/>
<line x1="449.2" y1="167.4" x2="451.5" y2="167.4" stroke="#111" stroke-width="1"/>
<line x1="451.5" y1="167.4" x2="451.5" y2="171" stroke="#111" stroke-width="0.9"/>
<line x1="454.4" y1="167.4" x2="454.4" y2="169.6" stroke="#111" stroke-width="0.9"/>
<line x1="457.3" y1="167.4" x2="457.3" y2="169.6" stroke="#111" stroke-width="0.9"/>
<line x1="460.2" y1="167.4" x2="460.2" y2="169.6" stroke="#111" stroke-width="0.9"/>
<line x1="463.1" y1="167.4" x2="463.1" y2="171" stroke="#111" stroke-width="0.9"/>
<line x1="466" y1="167.4" x2="466" y2="169.6" stroke="#111" stroke-width="0.9"/>
<line x1="468.9" y1="167.4" x2="468.9" y2="169.6" stroke="#111" stroke-width="0.9"/>
<line x1="471.8" y1="167.4" x2="471.8" y2="169.6" stroke="#111" stroke-width="0.9"/>
<line x1="474.7" y1="167.4" x2="474.7" y2="171" stroke="#111" stroke-width="0.9"/>
<line x1="477.6" y1="167.4" x2="477.6" y2="169.6" stroke="#111" stroke-width="0.9"/>
<line x1="480.5" y1="167.4" x2="480.5" y2="169.6" stroke="#111" stroke-width="0.9"/>
<line x1="483.4" y1="167.4" x2="483.4" y2="169.6" stroke="#111" stroke-width="0.9"/>
<line x1="486.3" y1="167.4" x2="486.3" y2="171" stroke="#111" stroke-width="0.9"/>
<line x1="489.2" y1="167.4" x2="489.2" y2="169.6" stroke="#111" stroke-width="0.9"/>
<line x1="492.1" y1="167.4" x2="492.1" y2="169.6" stroke="#111" stroke-width="0.9"/>
<line x1="495" y1="167.4" x2="495" y2="169.6" stroke="#111" stroke-width="0.9"/>
<line x1="497.9" y1="167.4" x2="497.9" y2="171" stroke="#111" stroke-width="0.9"/>
<line x1="500.8" y1="167.4" x2="500.8" y2="169.6" stroke="#111" stroke-width="0.9"/>
<line x1="503.7" y1="167.4" x2="503.7" y2="169.6" stroke="#111" stroke-width="0.9"/>
<line x1="506.6" y1="167.4" x2="506.6" y2="169.6" stroke="#111" stroke-width="0.9"/>
<line x1="509.5" y1="167.4" x2="509.5" y2="171" stroke="#111" stroke-width="0.9"/>
<text x="451.2" y="179.4" font-size="6.3" text-anchor="start" font-family='"Liberation Sans", sans-serif' fill="#000">0</text>
<text x="516.5" y="179.4" font-size="6.3" text-anchor="end" font-family='"Liberation Sans", sans-serif' fill="#000">1000</text>
<text x="481.7" y="186.9" font-size="6.9" text-anchor="middle" font-family='"Liberation Sans", sans-serif' fill="#000">FL1-Height</text>
<text x="52.6" y="113.8" font-size="5.9" text-anchor="middle" font-family='"Liberation Sans", sans-serif' fill="#000" transform="rotate(-90 52.6 113.8)">50</text>
<text x="53.1" y="167.8" font-size="5.9" text-anchor="middle" font-family='"Liberation Sans", sans-serif' fill="#000" transform="rotate(-90 53.1 167.8)">0</text>
<text x="51.4" y="141.15" font-size="6.4" text-anchor="middle" font-family='"Liberation Sans", sans-serif' fill="#000" transform="rotate(-90 51.4 141.15)">Counts</text>
<text x="2" y="233.5" font-size="24" font-weight="bold" text-anchor="start" font-family='"Liberation Sans", sans-serif' fill="#000">B</text>
<polygon points="59.81,331.9 59.81,326.38 60.99,325.6 62.49,323.59 66.01,317.58 69.39,309.69 71.91,299.79 73.9,286.89 76.1,277.31 77.89,272.51 79.9,279.89 82.8,294.8 85.81,307.68 88.79,315.6 92.7,322.6 96.7,327.48 100,329.49 106.77,330.19 119.46,330.62 119.46,331.9" fill="#c4c4c4" stroke="none" stroke-width="0" stroke-linejoin="round"/>
<polyline points="60.44,331.25 60.44,280.48 61.08,280.48 61.5,321.73 63.51,315.7 64.99,318.6 67.99,315.7 69.39,307.71 70.89,303.69 72.9,295.8 74.89,303.69 76.39,296.79 77.7,288.9 78.91,293.81 79.9,299.79 82.8,303.69 85.3,300.79 87.31,302.8 88.3,311.7 90.8,313.69 93.7,316.59 96.7,321.6 99.2,319.59 100.42,321.73 102.54,322.79 104.65,323.85 106.77,324.9 109.94,322.79 112.06,325.96 115.23,328.08 119.46,329.13 130.04,329.56 136.38,329.13 138.5,330.19 144.85,330.19 153.31,330.62 161.35,330.19" fill="none" stroke="#000" stroke-width="1.35" stroke-linejoin="round"/>
<line x1="59.2" y1="238" x2="162.5" y2="238" stroke="#111" stroke-width="1.4"/>
<line x1="162.5" y1="238" x2="162.5" y2="331.9" stroke="#111" stroke-width="1.4"/>
<line x1="60.6" y1="238.6" x2="60.6" y2="331.3" stroke="#8c8c8c" stroke-width="1.3"/>
<line x1="59.2" y1="237.4" x2="59.2" y2="332.6" stroke="#111" stroke-width="1.6"/>
<line x1="58.6" y1="331.9" x2="163.1" y2="331.9" stroke="#111" stroke-width="1.6"/>
<line x1="53.2" y1="331.9" x2="59.2" y2="331.9" stroke="#111" stroke-width="1.1"/>
<line x1="55.7" y1="329.22" x2="59.2" y2="329.22" stroke="#111" stroke-width="1.1"/>
<line x1="55.7" y1="326.53" x2="59.2" y2="326.53" stroke="#111" stroke-width="1.1"/>
<line x1="55.7" y1="323.85" x2="59.2" y2="323.85" stroke="#111" stroke-width="1.1"/>
<line x1="55.7" y1="321.17" x2="59.2" y2="321.17" stroke="#111" stroke-width="1.1"/>
<line x1="53.2" y1="318.49" x2="59.2" y2="318.49" stroke="#111" stroke-width="1.1"/>
<line x1="55.7" y1="315.8" x2="59.2" y2="315.8" stroke="#111" stroke-width="1.1"/>
<line x1="55.7" y1="313.12" x2="59.2" y2="313.12" stroke="#111" stroke-width="1.1"/>
<line x1="55.7" y1="310.44" x2="59.2" y2="310.44" stroke="#111" stroke-width="1.1"/>
<line x1="55.7" y1="307.75" x2="59.2" y2="307.75" stroke="#111" stroke-width="1.1"/>
<line x1="53.2" y1="305.07" x2="59.2" y2="305.07" stroke="#111" stroke-width="1.1"/>
<line x1="55.7" y1="302.39" x2="59.2" y2="302.39" stroke="#111" stroke-width="1.1"/>
<line x1="55.7" y1="299.71" x2="59.2" y2="299.71" stroke="#111" stroke-width="1.1"/>
<line x1="55.7" y1="297.02" x2="59.2" y2="297.02" stroke="#111" stroke-width="1.1"/>
<line x1="55.7" y1="294.34" x2="59.2" y2="294.34" stroke="#111" stroke-width="1.1"/>
<line x1="53.2" y1="291.66" x2="59.2" y2="291.66" stroke="#111" stroke-width="1.1"/>
<line x1="55.7" y1="288.97" x2="59.2" y2="288.97" stroke="#111" stroke-width="1.1"/>
<line x1="55.7" y1="286.29" x2="59.2" y2="286.29" stroke="#111" stroke-width="1.1"/>
<line x1="55.7" y1="283.61" x2="59.2" y2="283.61" stroke="#111" stroke-width="1.1"/>
<line x1="55.7" y1="280.93" x2="59.2" y2="280.93" stroke="#111" stroke-width="1.1"/>
<line x1="53.2" y1="278.24" x2="59.2" y2="278.24" stroke="#111" stroke-width="1.1"/>
<line x1="55.7" y1="275.56" x2="59.2" y2="275.56" stroke="#111" stroke-width="1.1"/>
<line x1="55.7" y1="272.88" x2="59.2" y2="272.88" stroke="#111" stroke-width="1.1"/>
<line x1="55.7" y1="270.19" x2="59.2" y2="270.19" stroke="#111" stroke-width="1.1"/>
<line x1="55.7" y1="267.51" x2="59.2" y2="267.51" stroke="#111" stroke-width="1.1"/>
<line x1="53.2" y1="264.83" x2="59.2" y2="264.83" stroke="#111" stroke-width="1.1"/>
<line x1="55.7" y1="262.15" x2="59.2" y2="262.15" stroke="#111" stroke-width="1.1"/>
<line x1="55.7" y1="259.46" x2="59.2" y2="259.46" stroke="#111" stroke-width="1.1"/>
<line x1="55.7" y1="256.78" x2="59.2" y2="256.78" stroke="#111" stroke-width="1.1"/>
<line x1="55.7" y1="254.1" x2="59.2" y2="254.1" stroke="#111" stroke-width="1.1"/>
<line x1="53.2" y1="251.41" x2="59.2" y2="251.41" stroke="#111" stroke-width="1.1"/>
<line x1="55.7" y1="248.73" x2="59.2" y2="248.73" stroke="#111" stroke-width="1.1"/>
<line x1="55.7" y1="246.05" x2="59.2" y2="246.05" stroke="#111" stroke-width="1.1"/>
<line x1="55.7" y1="243.37" x2="59.2" y2="243.37" stroke="#111" stroke-width="1.1"/>
<line x1="55.7" y1="240.68" x2="59.2" y2="240.68" stroke="#111" stroke-width="1.1"/>
<line x1="53.2" y1="238" x2="59.2" y2="238" stroke="#111" stroke-width="1.1"/>
<line x1="59.5" y1="331.9" x2="59.5" y2="338.7" stroke="#111" stroke-width="1.1"/>
<line x1="63.54" y1="331.9" x2="63.54" y2="335.9" stroke="#111" stroke-width="1.1"/>
<line x1="67.57" y1="331.9" x2="67.57" y2="335.9" stroke="#111" stroke-width="1.1"/>
<line x1="71.61" y1="331.9" x2="71.61" y2="335.9" stroke="#111" stroke-width="1.1"/>
<line x1="75.64" y1="331.9" x2="75.64" y2="335.9" stroke="#111" stroke-width="1.1"/>
<line x1="79.68" y1="331.9" x2="79.68" y2="338.7" stroke="#111" stroke-width="1.1"/>
<line x1="83.71" y1="331.9" x2="83.71" y2="335.9" stroke="#111" stroke-width="1.1"/>
<line x1="87.75" y1="331.9" x2="87.75" y2="335.9" stroke="#111" stroke-width="1.1"/>
<line x1="91.78" y1="331.9" x2="91.78" y2="335.9" stroke="#111" stroke-width="1.1"/>
<line x1="95.82" y1="331.9" x2="95.82" y2="335.9" stroke="#111" stroke-width="1.1"/>
<line x1="99.85" y1="331.9" x2="99.85" y2="338.7" stroke="#111" stroke-width="1.1"/>
<line x1="103.89" y1="331.9" x2="103.89" y2="335.9" stroke="#111" stroke-width="1.1"/>
<line x1="107.92" y1="331.9" x2="107.92" y2="335.9" stroke="#111" stroke-width="1.1"/>
<line x1="111.96" y1="331.9" x2="111.96" y2="335.9" stroke="#111" stroke-width="1.1"/>
<line x1="115.99" y1="331.9" x2="115.99" y2="335.9" stroke="#111" stroke-width="1.1"/>
<line x1="120.03" y1="331.9" x2="120.03" y2="338.7" stroke="#111" stroke-width="1.1"/>
<line x1="124.06" y1="331.9" x2="124.06" y2="335.9" stroke="#111" stroke-width="1.1"/>
<line x1="128.1" y1="331.9" x2="128.1" y2="335.9" stroke="#111" stroke-width="1.1"/>
<line x1="132.13" y1="331.9" x2="132.13" y2="335.9" stroke="#111" stroke-width="1.1"/>
<line x1="136.17" y1="331.9" x2="136.17" y2="335.9" stroke="#111" stroke-width="1.1"/>
<line x1="140.2" y1="331.9" x2="140.2" y2="338.7" stroke="#111" stroke-width="1.1"/>
<line x1="144.24" y1="331.9" x2="144.24" y2="335.9" stroke="#111" stroke-width="1.1"/>
<line x1="148.27" y1="331.9" x2="148.27" y2="335.9" stroke="#111" stroke-width="1.1"/>
<line x1="152.31" y1="331.9" x2="152.31" y2="335.9" stroke="#111" stroke-width="1.1"/>
<line x1="156.34" y1="331.9" x2="156.34" y2="335.9" stroke="#111" stroke-width="1.1"/>
<line x1="160.38" y1="331.9" x2="160.38" y2="338.7" stroke="#111" stroke-width="1.1"/>
<text x="74" y="226.3" font-size="13" font-weight="bold" text-anchor="start" font-family='"Liberation Sans", sans-serif' fill="#000">Monocytes</text>
<text x="58.7" y="353.5" font-size="12" text-anchor="start" font-family='"Liberation Sans", sans-serif' fill="#000">0</text>
<text x="173" y="353.5" font-size="12" text-anchor="end" font-family='"Liberation Sans", sans-serif' fill="#000">1000</text>
<text x="108.9" y="366" font-size="11" text-anchor="middle" font-family='"Liberation Serif", serif' fill="#000">FL2-Height</text>
<text x="45.2" y="238.6" font-size="12" text-anchor="middle" font-family='"Liberation Serif", serif' fill="#000" transform="rotate(-90 45.2 238.6)">70</text>
<text x="45.2" y="332.2" font-size="12" text-anchor="middle" font-family='"Liberation Serif", serif' fill="#000" transform="rotate(-90 45.2 332.2)">0</text>
<text x="37.7" y="282.05" font-size="10.6" text-anchor="middle" font-family='"Liberation Sans", sans-serif' fill="#000" transform="rotate(-90 37.7 282.05)">Counts</text>
<polygon points="229.2,331.9 229.2,329.35 231.29,328.71 234.61,327.4 237.19,323.49 239.2,312.99 240.49,302.48 241.8,289.37 243.09,276.21 244.4,257.85 245.67,252.35 246.39,252.01 247.15,253.19 248.4,255.2 249.69,260.38 251,267.01 252.99,280.21 254.3,295.99 255.62,309 256.88,320.88 258.2,325.96 261.5,327.4 269.41,328.71 276.77,329.56 289.46,330.19 289.46,331.9" fill="#c4c4c4" stroke="none" stroke-width="0" stroke-linejoin="round"/>
<polyline points="251.38,330.62 255,330.3 259.8,329.3 264.61,328.8 266.49,326 268.5,327.4 270.4,326.89 272.31,323.11 273.81,317.29 275.2,315.38 275.69,320.19 278.1,311.49 280.01,305.8 281.4,301 282.9,295.69 284.81,294.7 286.29,298.1 286.69,292.31 287.71,281.71 288.7,289.41 289.59,283.7 291.09,283.19 292,289.41 293.5,295.2 294.39,292.31 295.41,296.2 297.29,300.79 299.59,304.6 301.5,309.19 302.7,313.1 303.51,316.89 304.99,318.49 306.49,320 308.1,324.59 309.6,322.3 311.19,324.59 313.09,328.48 314.99,329.98 318.1,330.38 325.78,330.78 328.09,329.98 331.2,330.38" fill="none" stroke="#000" stroke-width="1.35" stroke-linejoin="round"/>
<line x1="229.2" y1="238" x2="334.8" y2="238" stroke="#111" stroke-width="1.4"/>
<line x1="334.8" y1="238" x2="334.8" y2="331.9" stroke="#111" stroke-width="1.4"/>
<line x1="230.6" y1="238.6" x2="230.6" y2="331.3" stroke="#8c8c8c" stroke-width="1.3"/>
<line x1="229.2" y1="237.4" x2="229.2" y2="332.6" stroke="#111" stroke-width="1.6"/>
<line x1="228.6" y1="331.9" x2="335.4" y2="331.9" stroke="#111" stroke-width="1.6"/>
<line x1="223.2" y1="331.9" x2="229.2" y2="331.9" stroke="#111" stroke-width="1.1"/>
<line x1="225.7" y1="329.22" x2="229.2" y2="329.22" stroke="#111" stroke-width="1.1"/>
<line x1="225.7" y1="326.53" x2="229.2" y2="326.53" stroke="#111" stroke-width="1.1"/>
<line x1="225.7" y1="323.85" x2="229.2" y2="323.85" stroke="#111" stroke-width="1.1"/>
<line x1="225.7" y1="321.17" x2="229.2" y2="321.17" stroke="#111" stroke-width="1.1"/>
<line x1="223.2" y1="318.49" x2="229.2" y2="318.49" stroke="#111" stroke-width="1.1"/>
<line x1="225.7" y1="315.8" x2="229.2" y2="315.8" stroke="#111" stroke-width="1.1"/>
<line x1="225.7" y1="313.12" x2="229.2" y2="313.12" stroke="#111" stroke-width="1.1"/>
<line x1="225.7" y1="310.44" x2="229.2" y2="310.44" stroke="#111" stroke-width="1.1"/>
<line x1="225.7" y1="307.75" x2="229.2" y2="307.75" stroke="#111" stroke-width="1.1"/>
<line x1="223.2" y1="305.07" x2="229.2" y2="305.07" stroke="#111" stroke-width="1.1"/>
<line x1="225.7" y1="302.39" x2="229.2" y2="302.39" stroke="#111" stroke-width="1.1"/>
<line x1="225.7" y1="299.71" x2="229.2" y2="299.71" stroke="#111" stroke-width="1.1"/>
<line x1="225.7" y1="297.02" x2="229.2" y2="297.02" stroke="#111" stroke-width="1.1"/>
<line x1="225.7" y1="294.34" x2="229.2" y2="294.34" stroke="#111" stroke-width="1.1"/>
<line x1="223.2" y1="291.66" x2="229.2" y2="291.66" stroke="#111" stroke-width="1.1"/>
<line x1="225.7" y1="288.97" x2="229.2" y2="288.97" stroke="#111" stroke-width="1.1"/>
<line x1="225.7" y1="286.29" x2="229.2" y2="286.29" stroke="#111" stroke-width="1.1"/>
<line x1="225.7" y1="283.61" x2="229.2" y2="283.61" stroke="#111" stroke-width="1.1"/>
<line x1="225.7" y1="280.93" x2="229.2" y2="280.93" stroke="#111" stroke-width="1.1"/>
<line x1="223.2" y1="278.24" x2="229.2" y2="278.24" stroke="#111" stroke-width="1.1"/>
<line x1="225.7" y1="275.56" x2="229.2" y2="275.56" stroke="#111" stroke-width="1.1"/>
<line x1="225.7" y1="272.88" x2="229.2" y2="272.88" stroke="#111" stroke-width="1.1"/>
<line x1="225.7" y1="270.19" x2="229.2" y2="270.19" stroke="#111" stroke-width="1.1"/>
<line x1="225.7" y1="267.51" x2="229.2" y2="267.51" stroke="#111" stroke-width="1.1"/>
<line x1="223.2" y1="264.83" x2="229.2" y2="264.83" stroke="#111" stroke-width="1.1"/>
<line x1="225.7" y1="262.15" x2="229.2" y2="262.15" stroke="#111" stroke-width="1.1"/>
<line x1="225.7" y1="259.46" x2="229.2" y2="259.46" stroke="#111" stroke-width="1.1"/>
<line x1="225.7" y1="256.78" x2="229.2" y2="256.78" stroke="#111" stroke-width="1.1"/>
<line x1="225.7" y1="254.1" x2="229.2" y2="254.1" stroke="#111" stroke-width="1.1"/>
<line x1="223.2" y1="251.41" x2="229.2" y2="251.41" stroke="#111" stroke-width="1.1"/>
<line x1="225.7" y1="248.73" x2="229.2" y2="248.73" stroke="#111" stroke-width="1.1"/>
<line x1="225.7" y1="246.05" x2="229.2" y2="246.05" stroke="#111" stroke-width="1.1"/>
<line x1="225.7" y1="243.37" x2="229.2" y2="243.37" stroke="#111" stroke-width="1.1"/>
<line x1="225.7" y1="240.68" x2="229.2" y2="240.68" stroke="#111" stroke-width="1.1"/>
<line x1="223.2" y1="238" x2="229.2" y2="238" stroke="#111" stroke-width="1.1"/>
<line x1="229.5" y1="331.9" x2="229.5" y2="338.7" stroke="#111" stroke-width="1.1"/>
<line x1="233.62" y1="331.9" x2="233.62" y2="335.9" stroke="#111" stroke-width="1.1"/>
<line x1="237.75" y1="331.9" x2="237.75" y2="335.9" stroke="#111" stroke-width="1.1"/>
<line x1="241.88" y1="331.9" x2="241.88" y2="335.9" stroke="#111" stroke-width="1.1"/>
<line x1="246" y1="331.9" x2="246" y2="335.9" stroke="#111" stroke-width="1.1"/>
<line x1="250.12" y1="331.9" x2="250.12" y2="338.7" stroke="#111" stroke-width="1.1"/>
<line x1="254.25" y1="331.9" x2="254.25" y2="335.9" stroke="#111" stroke-width="1.1"/>
<line x1="258.38" y1="331.9" x2="258.38" y2="335.9" stroke="#111" stroke-width="1.1"/>
<line x1="262.5" y1="331.9" x2="262.5" y2="335.9" stroke="#111" stroke-width="1.1"/>
<line x1="266.62" y1="331.9" x2="266.62" y2="335.9" stroke="#111" stroke-width="1.1"/>
<line x1="270.75" y1="331.9" x2="270.75" y2="338.7" stroke="#111" stroke-width="1.1"/>
<line x1="274.88" y1="331.9" x2="274.88" y2="335.9" stroke="#111" stroke-width="1.1"/>
<line x1="279" y1="331.9" x2="279" y2="335.9" stroke="#111" stroke-width="1.1"/>
<line x1="283.12" y1="331.9" x2="283.12" y2="335.9" stroke="#111" stroke-width="1.1"/>
<line x1="287.25" y1="331.9" x2="287.25" y2="335.9" stroke="#111" stroke-width="1.1"/>
<line x1="291.38" y1="331.9" x2="291.38" y2="338.7" stroke="#111" stroke-width="1.1"/>
<line x1="295.5" y1="331.9" x2="295.5" y2="335.9" stroke="#111" stroke-width="1.1"/>
<line x1="299.62" y1="331.9" x2="299.62" y2="335.9" stroke="#111" stroke-width="1.1"/>
<line x1="303.75" y1="331.9" x2="303.75" y2="335.9" stroke="#111" stroke-width="1.1"/>
<line x1="307.88" y1="331.9" x2="307.88" y2="335.9" stroke="#111" stroke-width="1.1"/>
<line x1="312" y1="331.9" x2="312" y2="338.7" stroke="#111" stroke-width="1.1"/>
<line x1="316.12" y1="331.9" x2="316.12" y2="335.9" stroke="#111" stroke-width="1.1"/>
<line x1="320.25" y1="331.9" x2="320.25" y2="335.9" stroke="#111" stroke-width="1.1"/>
<line x1="324.38" y1="331.9" x2="324.38" y2="335.9" stroke="#111" stroke-width="1.1"/>
<line x1="328.5" y1="331.9" x2="328.5" y2="335.9" stroke="#111" stroke-width="1.1"/>
<line x1="332.63" y1="331.9" x2="332.63" y2="338.7" stroke="#111" stroke-width="1.1"/>
<text x="261" y="226.3" font-size="13" font-weight="bold" text-anchor="start" font-family='"Liberation Sans", sans-serif' fill="#000">imDC</text>
<text x="228.7" y="353.5" font-size="12" text-anchor="start" font-family='"Liberation Sans", sans-serif' fill="#000">0</text>
<text x="345.3" y="353.5" font-size="12" text-anchor="end" font-family='"Liberation Sans", sans-serif' fill="#000">1000</text>
<text x="277.3" y="366" font-size="11" text-anchor="middle" font-family='"Liberation Serif", serif' fill="#000">FL2-Height</text>
<text x="216" y="238.6" font-size="12" text-anchor="middle" font-family='"Liberation Serif", serif' fill="#000" transform="rotate(-90 216 238.6)">70</text>
<text x="216" y="332.2" font-size="12" text-anchor="middle" font-family='"Liberation Serif", serif' fill="#000" transform="rotate(-90 216 332.2)">0</text>
<text x="207.7" y="282.05" font-size="10.6" text-anchor="middle" font-family='"Liberation Sans", sans-serif' fill="#000" transform="rotate(-90 207.7 282.05)">Counts</text>
<polygon points="402.29,332.1 402.29,329.35 404.51,327.7 407.89,324.21 410.79,310.39 412,296.35 412.51,285.13 412.7,275.59 413.29,267.89 414.6,262.8 415.49,257.7 416.5,261.99 418.41,256.7 419.11,262.8 420.29,269.21 421.31,275.59 421.9,282 422.3,288.39 422.89,293.09 424.69,304.6 426.4,313.8 428.69,320.8 432.2,323.11 435.61,322.49 439.1,324.8 442.5,327.7 447.2,329.98 452,330.62 452,332.1" fill="#c4c4c4" stroke="none" stroke-width="0" stroke-linejoin="round"/>
<polyline points="403.24,331.25 403.24,304.81 403.45,298.46 403.77,323.85 404.51,326.49 406.79,323.11 409.69,315 411.41,303.5 412.51,291.9 413.69,287.29 415.4,282.7 416.59,279.8 417.69,285.01 419.51,290.8 421.2,294.19 422.89,297.7 424.69,301.19 426.4,304.6 428.1,306.9 430.4,309.19 432.71,311.49 434.99,313.8 437.3,316.19 439.69,318.49 441.99,319.59 444.3,321.9 446.61,323.11 449.5,324.21 452.3,325.41 455.19,326.49 457.5,325.41 459.81,328.8 464.69,329.77 468.92,329.13 473.15,330.19 481.62,330.62 502.77,330.62" fill="none" stroke="#000" stroke-width="1.35" stroke-linejoin="round"/>
<line x1="401.5" y1="239.2" x2="508.5" y2="239.2" stroke="#111" stroke-width="1.4"/>
<line x1="508.5" y1="239.2" x2="508.5" y2="332.1" stroke="#111" stroke-width="1.4"/>
<line x1="402.9" y1="239.8" x2="402.9" y2="331.5" stroke="#8c8c8c" stroke-width="1.3"/>
<line x1="401.5" y1="238.6" x2="401.5" y2="332.8" stroke="#111" stroke-width="1.6"/>
<line x1="400.9" y1="332.1" x2="509.1" y2="332.1" stroke="#111" stroke-width="1.6"/>
<line x1="395.5" y1="332.1" x2="401.5" y2="332.1" stroke="#111" stroke-width="1.1"/>
<line x1="398" y1="329.45" x2="401.5" y2="329.45" stroke="#111" stroke-width="1.1"/>
<line x1="398" y1="326.79" x2="401.5" y2="326.79" stroke="#111" stroke-width="1.1"/>
<line x1="398" y1="324.14" x2="401.5" y2="324.14" stroke="#111" stroke-width="1.1"/>
<line x1="398" y1="321.48" x2="401.5" y2="321.48" stroke="#111" stroke-width="1.1"/>
<line x1="395.5" y1="318.83" x2="401.5" y2="318.83" stroke="#111" stroke-width="1.1"/>
<line x1="398" y1="316.17" x2="401.5" y2="316.17" stroke="#111" stroke-width="1.1"/>
<line x1="398" y1="313.52" x2="401.5" y2="313.52" stroke="#111" stroke-width="1.1"/>
<line x1="398" y1="310.87" x2="401.5" y2="310.87" stroke="#111" stroke-width="1.1"/>
<line x1="398" y1="308.21" x2="401.5" y2="308.21" stroke="#111" stroke-width="1.1"/>
<line x1="395.5" y1="305.56" x2="401.5" y2="305.56" stroke="#111" stroke-width="1.1"/>
<line x1="398" y1="302.9" x2="401.5" y2="302.9" stroke="#111" stroke-width="1.1"/>
<line x1="398" y1="300.25" x2="401.5" y2="300.25" stroke="#111" stroke-width="1.1"/>
<line x1="398" y1="297.59" x2="401.5" y2="297.59" stroke="#111" stroke-width="1.1"/>
<line x1="398" y1="294.94" x2="401.5" y2="294.94" stroke="#111" stroke-width="1.1"/>
<line x1="395.5" y1="292.29" x2="401.5" y2="292.29" stroke="#111" stroke-width="1.1"/>
<line x1="398" y1="289.63" x2="401.5" y2="289.63" stroke="#111" stroke-width="1.1"/>
<line x1="398" y1="286.98" x2="401.5" y2="286.98" stroke="#111" stroke-width="1.1"/>
<line x1="398" y1="284.32" x2="401.5" y2="284.32" stroke="#111" stroke-width="1.1"/>
<line x1="398" y1="281.67" x2="401.5" y2="281.67" stroke="#111" stroke-width="1.1"/>
<line x1="395.5" y1="279.01" x2="401.5" y2="279.01" stroke="#111" stroke-width="1.1"/>
<line x1="398" y1="276.36" x2="401.5" y2="276.36" stroke="#111" stroke-width="1.1"/>
<line x1="398" y1="273.71" x2="401.5" y2="273.71" stroke="#111" stroke-width="1.1"/>
<line x1="398" y1="271.05" x2="401.5" y2="271.05" stroke="#111" stroke-width="1.1"/>
<line x1="398" y1="268.4" x2="401.5" y2="268.4" stroke="#111" stroke-width="1.1"/>
<line x1="395.5" y1="265.74" x2="401.5" y2="265.74" stroke="#111" stroke-width="1.1"/>
<line x1="398" y1="263.09" x2="401.5" y2="263.09" stroke="#111" stroke-width="1.1"/>
<line x1="398" y1="260.43" x2="401.5" y2="260.43" stroke="#111" stroke-width="1.1"/>
<line x1="398" y1="257.78" x2="401.5" y2="257.78" stroke="#111" stroke-width="1.1"/>
<line x1="398" y1="255.13" x2="401.5" y2="255.13" stroke="#111" stroke-width="1.1"/>
<line x1="395.5" y1="252.47" x2="401.5" y2="252.47" stroke="#111" stroke-width="1.1"/>
<line x1="398" y1="249.82" x2="401.5" y2="249.82" stroke="#111" stroke-width="1.1"/>
<line x1="398" y1="247.16" x2="401.5" y2="247.16" stroke="#111" stroke-width="1.1"/>
<line x1="398" y1="244.51" x2="401.5" y2="244.51" stroke="#111" stroke-width="1.1"/>
<line x1="398" y1="241.85" x2="401.5" y2="241.85" stroke="#111" stroke-width="1.1"/>
<line x1="395.5" y1="239.2" x2="401.5" y2="239.2" stroke="#111" stroke-width="1.1"/>
<line x1="401.8" y1="332.1" x2="401.8" y2="338.9" stroke="#111" stroke-width="1.1"/>
<line x1="405.98" y1="332.1" x2="405.98" y2="336.1" stroke="#111" stroke-width="1.1"/>
<line x1="410.16" y1="332.1" x2="410.16" y2="336.1" stroke="#111" stroke-width="1.1"/>
<line x1="414.34" y1="332.1" x2="414.34" y2="336.1" stroke="#111" stroke-width="1.1"/>
<line x1="418.52" y1="332.1" x2="418.52" y2="336.1" stroke="#111" stroke-width="1.1"/>
<line x1="422.7" y1="332.1" x2="422.7" y2="338.9" stroke="#111" stroke-width="1.1"/>
<line x1="426.88" y1="332.1" x2="426.88" y2="336.1" stroke="#111" stroke-width="1.1"/>
<line x1="431.06" y1="332.1" x2="431.06" y2="336.1" stroke="#111" stroke-width="1.1"/>
<line x1="435.24" y1="332.1" x2="435.24" y2="336.1" stroke="#111" stroke-width="1.1"/>
<line x1="439.42" y1="332.1" x2="439.42" y2="336.1" stroke="#111" stroke-width="1.1"/>
<line x1="443.6" y1="332.1" x2="443.6" y2="338.9" stroke="#111" stroke-width="1.1"/>
<line x1="447.78" y1="332.1" x2="447.78" y2="336.1" stroke="#111" stroke-width="1.1"/>
<line x1="451.96" y1="332.1" x2="451.96" y2="336.1" stroke="#111" stroke-width="1.1"/>
<line x1="456.14" y1="332.1" x2="456.14" y2="336.1" stroke="#111" stroke-width="1.1"/>
<line x1="460.32" y1="332.1" x2="460.32" y2="336.1" stroke="#111" stroke-width="1.1"/>
<line x1="464.5" y1="332.1" x2="464.5" y2="338.9" stroke="#111" stroke-width="1.1"/>
<line x1="468.68" y1="332.1" x2="468.68" y2="336.1" stroke="#111" stroke-width="1.1"/>
<line x1="472.85" y1="332.1" x2="472.85" y2="336.1" stroke="#111" stroke-width="1.1"/>
<line x1="477.03" y1="332.1" x2="477.03" y2="336.1" stroke="#111" stroke-width="1.1"/>
<line x1="481.21" y1="332.1" x2="481.21" y2="336.1" stroke="#111" stroke-width="1.1"/>
<line x1="485.39" y1="332.1" x2="485.39" y2="338.9" stroke="#111" stroke-width="1.1"/>
<line x1="489.57" y1="332.1" x2="489.57" y2="336.1" stroke="#111" stroke-width="1.1"/>
<line x1="493.75" y1="332.1" x2="493.75" y2="336.1" stroke="#111" stroke-width="1.1"/>
<line x1="497.93" y1="332.1" x2="497.93" y2="336.1" stroke="#111" stroke-width="1.1"/>
<line x1="502.11" y1="332.1" x2="502.11" y2="336.1" stroke="#111" stroke-width="1.1"/>
<line x1="506.29" y1="332.1" x2="506.29" y2="338.9" stroke="#111" stroke-width="1.1"/>
<text x="433.3" y="226.3" font-size="13" font-weight="bold" text-anchor="start" font-family='"Liberation Sans", sans-serif' fill="#000">mDC</text>
<text x="401" y="353.5" font-size="12" text-anchor="start" font-family='"Liberation Sans", sans-serif' fill="#000">0</text>
<text x="519" y="353.5" font-size="12" text-anchor="end" font-family='"Liberation Sans", sans-serif' fill="#000">1000</text>
<text x="453.1" y="366" font-size="11" text-anchor="middle" font-family='"Liberation Serif", serif' fill="#000">FL2-Height</text>
<text x="388.7" y="239.8" font-size="12" text-anchor="middle" font-family='"Liberation Serif", serif' fill="#000" transform="rotate(-90 388.7 239.8)">70</text>
<text x="388.7" y="332.4" font-size="12" text-anchor="middle" font-family='"Liberation Serif", serif' fill="#000" transform="rotate(-90 388.7 332.4)">0</text>
<text x="380" y="282.75" font-size="10.6" text-anchor="middle" font-family='"Liberation Sans", sans-serif' fill="#000" transform="rotate(-90 380 282.75)">Counts</text>
<text x="2.2" y="411.3" font-size="24" font-weight="bold" text-anchor="start" font-family='"Liberation Sans", sans-serif' fill="#000">C</text>
<line x1="63.8" y1="401.1" x2="63.8" y2="581.7" stroke="#000" stroke-width="1.7"/>
<line x1="63" y1="580.9" x2="256.2" y2="580.9" stroke="#000" stroke-width="1.7"/>
<line x1="59.2" y1="580.9" x2="63.8" y2="580.9" stroke="#000" stroke-width="1.5"/>
<text x="54.3" y="584.5" font-size="10" font-weight="bold" text-anchor="end" font-family='"Liberation Sans", sans-serif' fill="#000">0</text>
<line x1="59.2" y1="545.1" x2="63.8" y2="545.1" stroke="#000" stroke-width="1.5"/>
<text x="54.3" y="548.7" font-size="10" font-weight="bold" text-anchor="end" font-family='"Liberation Sans", sans-serif' fill="#000">100</text>
<line x1="59.2" y1="509.3" x2="63.8" y2="509.3" stroke="#000" stroke-width="1.5"/>
<text x="54.3" y="512.9" font-size="10" font-weight="bold" text-anchor="end" font-family='"Liberation Sans", sans-serif' fill="#000">200</text>
<line x1="59.2" y1="473.5" x2="63.8" y2="473.5" stroke="#000" stroke-width="1.5"/>
<text x="54.3" y="477.1" font-size="10" font-weight="bold" text-anchor="end" font-family='"Liberation Sans", sans-serif' fill="#000">300</text>
<line x1="59.2" y1="437.7" x2="63.8" y2="437.7" stroke="#000" stroke-width="1.5"/>
<text x="54.3" y="441.3" font-size="10" font-weight="bold" text-anchor="end" font-family='"Liberation Sans", sans-serif' fill="#000">400</text>
<line x1="59.2" y1="401.9" x2="63.8" y2="401.9" stroke="#000" stroke-width="1.5"/>
<text x="54.3" y="405.5" font-size="10" font-weight="bold" text-anchor="end" font-family='"Liberation Sans", sans-serif' fill="#000">500</text>
<line x1="63.8" y1="580.9" x2="63.8" y2="584.9" stroke="#000" stroke-width="1.5"/>
<text x="63.8" y="600.9" font-size="10" font-weight="bold" text-anchor="middle" font-family='"Liberation Sans", sans-serif' fill="#000">0.1</text>
<line x1="127.7" y1="580.9" x2="127.7" y2="584.9" stroke="#000" stroke-width="1.5"/>
<text x="127.7" y="600.9" font-size="10" font-weight="bold" text-anchor="middle" font-family='"Liberation Sans", sans-serif' fill="#000">1</text>
<line x1="191.6" y1="580.9" x2="191.6" y2="584.9" stroke="#000" stroke-width="1.5"/>
<text x="191.6" y="600.9" font-size="10" font-weight="bold" text-anchor="middle" font-family='"Liberation Sans", sans-serif' fill="#000">10</text>
<line x1="255.5" y1="580.9" x2="255.5" y2="584.9" stroke="#000" stroke-width="1.5"/>
<text x="255.5" y="600.9" font-size="10" font-weight="bold" text-anchor="middle" font-family='"Liberation Sans", sans-serif' fill="#000">100</text>
<text x="163.2" y="620.5" font-size="10.9" font-weight="bold" text-anchor="middle" font-family='"Liberation Sans", sans-serif' fill="#000">HCV-LP E2 (µg/mL)</text>
<text x="28" y="480.4" font-size="14" font-weight="bold" text-anchor="middle" font-family='"Liberation Sans", sans-serif' fill="#000" transform="rotate(-90 28 480.4)"><tspan font-weight="normal" font-size="12.5">Δ</tspan> MFI</text>
<polyline points="83.04,551.69 102.27,520.11 127.7,479.3 146.94,436.98 166.17,426.6 185.41,417.29 204.64,425.53" fill="none" stroke="#000" stroke-width="1.5" stroke-linejoin="round"/>
<polyline points="102.27,580.9 127.7,574.21 146.94,561.71 166.17,537.94 185.41,516.82 204.64,502.68" fill="none" stroke="#000" stroke-width="1.5" stroke-linejoin="round"/>
<rect x="78.54" y="547.19" width="9" height="9" fill="#000"/>
<rect x="97.77" y="515.61" width="9" height="9" fill="#000"/>
<rect x="123.2" y="474.8" width="9" height="9" fill="#000"/>
<rect x="142.44" y="432.48" width="9" height="9" fill="#000"/>
<rect x="161.67" y="422.1" width="9" height="9" fill="#000"/>
<rect x="180.91" y="412.79" width="9" height="9" fill="#000"/>
<rect x="200.14" y="421.03" width="9" height="9" fill="#000"/>
<rect x="79.04" y="576.9" width="8" height="8" fill="#fff" stroke="#4a4a4a" stroke-width="1"/>
<rect x="98.27" y="576.9" width="8" height="8" fill="#fff" stroke="#4a4a4a" stroke-width="1"/>
<rect x="123.7" y="570.21" width="8" height="8" fill="#fff" stroke="#4a4a4a" stroke-width="1"/>
<rect x="142.94" y="557.71" width="8" height="8" fill="#fff" stroke="#4a4a4a" stroke-width="1"/>
<rect x="162.17" y="533.94" width="8" height="8" fill="#fff" stroke="#4a4a4a" stroke-width="1"/>
<rect x="181.41" y="512.82" width="8" height="8" fill="#fff" stroke="#4a4a4a" stroke-width="1"/>
<rect x="200.64" y="498.68" width="8" height="8" fill="#fff" stroke="#4a4a4a" stroke-width="1"/>
<line x1="318" y1="399" x2="318" y2="581.5" stroke="#000" stroke-width="1.7"/>
<line x1="317.2" y1="580.7" x2="511" y2="580.7" stroke="#000" stroke-width="1.7"/>
<line x1="313.4" y1="580.7" x2="318" y2="580.7" stroke="#000" stroke-width="1.5"/>
<text x="308.5" y="584.3" font-size="10" font-weight="bold" text-anchor="end" font-family='"Liberation Sans", sans-serif' fill="#000">0</text>
<line x1="313.4" y1="544.52" x2="318" y2="544.52" stroke="#000" stroke-width="1.5"/>
<text x="308.5" y="548.12" font-size="10" font-weight="bold" text-anchor="end" font-family='"Liberation Sans", sans-serif' fill="#000">100</text>
<line x1="313.4" y1="508.34" x2="318" y2="508.34" stroke="#000" stroke-width="1.5"/>
<text x="308.5" y="511.94" font-size="10" font-weight="bold" text-anchor="end" font-family='"Liberation Sans", sans-serif' fill="#000">200</text>
<line x1="313.4" y1="472.16" x2="318" y2="472.16" stroke="#000" stroke-width="1.5"/>
<text x="308.5" y="475.76" font-size="10" font-weight="bold" text-anchor="end" font-family='"Liberation Sans", sans-serif' fill="#000">300</text>
<line x1="313.4" y1="435.98" x2="318" y2="435.98" stroke="#000" stroke-width="1.5"/>
<text x="308.5" y="439.58" font-size="10" font-weight="bold" text-anchor="end" font-family='"Liberation Sans", sans-serif' fill="#000">400</text>
<line x1="313.4" y1="399.8" x2="318" y2="399.8" stroke="#000" stroke-width="1.5"/>
<text x="308.5" y="403.4" font-size="10" font-weight="bold" text-anchor="end" font-family='"Liberation Sans", sans-serif' fill="#000">500</text>
<line x1="318" y1="580.7" x2="318" y2="584.7" stroke="#000" stroke-width="1.5"/>
<text x="318" y="600.7" font-size="10" font-weight="bold" text-anchor="middle" font-family='"Liberation Sans", sans-serif' fill="#000">0.1</text>
<line x1="382.1" y1="580.7" x2="382.1" y2="584.7" stroke="#000" stroke-width="1.5"/>
<text x="382.1" y="600.7" font-size="10" font-weight="bold" text-anchor="middle" font-family='"Liberation Sans", sans-serif' fill="#000">1</text>
<line x1="446.2" y1="580.7" x2="446.2" y2="584.7" stroke="#000" stroke-width="1.5"/>
<text x="446.2" y="600.7" font-size="10" font-weight="bold" text-anchor="middle" font-family='"Liberation Sans", sans-serif' fill="#000">10</text>
<line x1="510.3" y1="580.7" x2="510.3" y2="584.7" stroke="#000" stroke-width="1.5"/>
<text x="510.3" y="600.7" font-size="10" font-weight="bold" text-anchor="middle" font-family='"Liberation Sans", sans-serif' fill="#000">100</text>
<text x="419.8" y="620.3" font-size="10.9" font-weight="bold" text-anchor="middle" font-family='"Liberation Sans", sans-serif' fill="#000">HCV-LP E2 (µg/mL)</text>
<text x="283" y="480.4" font-size="14" font-weight="bold" text-anchor="middle" font-family='"Liberation Sans", sans-serif' fill="#000" transform="rotate(-90 283 480.4)"><tspan font-weight="normal" font-size="12.5">Δ</tspan> MFI</text>
<polyline points="337.3,575.27 356.59,575.27 382.1,569.12 401.4,562.97 420.69,555.01 439.99,549.95 459.28,546.69" fill="none" stroke="#000" stroke-width="1.5" stroke-linejoin="round"/>
<polyline points="439.99,580.7 459.28,572.74" fill="none" stroke="#000" stroke-width="1.2" stroke-linejoin="round"/>
<polyline points="439.99,580.7 459.28,578.89" fill="none" stroke="#000" stroke-width="1.2" stroke-linejoin="round"/>
<circle cx="337.3" cy="580.7" r="3.7" fill="#fff" stroke="#333" stroke-width="1"/>
<circle cx="356.59" cy="580.7" r="3.7" fill="#fff" stroke="#333" stroke-width="1"/>
<circle cx="382.1" cy="580.7" r="3.7" fill="#fff" stroke="#333" stroke-width="1"/>
<circle cx="401.4" cy="580.7" r="3.7" fill="#fff" stroke="#333" stroke-width="1"/>
<circle cx="420.69" cy="580.7" r="3.7" fill="#fff" stroke="#333" stroke-width="1"/>
<circle cx="439.99" cy="580.7" r="3.7" fill="#fff" stroke="#333" stroke-width="1"/>
<circle cx="459.28" cy="572.74" r="3.7" fill="#fff" stroke="#333" stroke-width="1"/>
<polygon points="337.3,576.5 341.5,580.7 337.3,584.9 333.1,580.7" fill="#fff" stroke="#333" stroke-width="1"/>
<polygon points="356.59,576.5 360.79,580.7 356.59,584.9 352.39,580.7" fill="#fff" stroke="#333" stroke-width="1"/>
<polygon points="382.1,576.5 386.3,580.7 382.1,584.9 377.9,580.7" fill="#fff" stroke="#333" stroke-width="1"/>
<polygon points="401.4,576.5 405.6,580.7 401.4,584.9 397.2,580.7" fill="#fff" stroke="#333" stroke-width="1"/>
<polygon points="420.69,576.5 424.89,580.7 420.69,584.9 416.49,580.7" fill="#fff" stroke="#333" stroke-width="1"/>
<polygon points="439.99,576.5 444.19,580.7 439.99,584.9 435.79,580.7" fill="#fff" stroke="#333" stroke-width="1"/>
<polygon points="459.28,574.69 463.48,578.89 459.28,583.09 455.08,578.89" fill="#fff" stroke="#333" stroke-width="1"/>
<polygon points="337.3,570.07 341.7,578.67 332.9,578.67" fill="#000"/>
<polygon points="356.59,570.07 360.99,578.67 352.19,578.67" fill="#000"/>
<polygon points="382.1,563.92 386.5,572.52 377.7,572.52" fill="#000"/>
<polygon points="401.4,557.77 405.8,566.37 397,566.37" fill="#000"/>
<polygon points="420.69,549.81 425.09,558.41 416.29,558.41" fill="#000"/>
<polygon points="439.99,544.75 444.39,553.35 435.59,553.35" fill="#000"/>
<polygon points="459.28,541.49 463.68,550.09 454.88,550.09" fill="#000"/>
</svg>
</body></html>
